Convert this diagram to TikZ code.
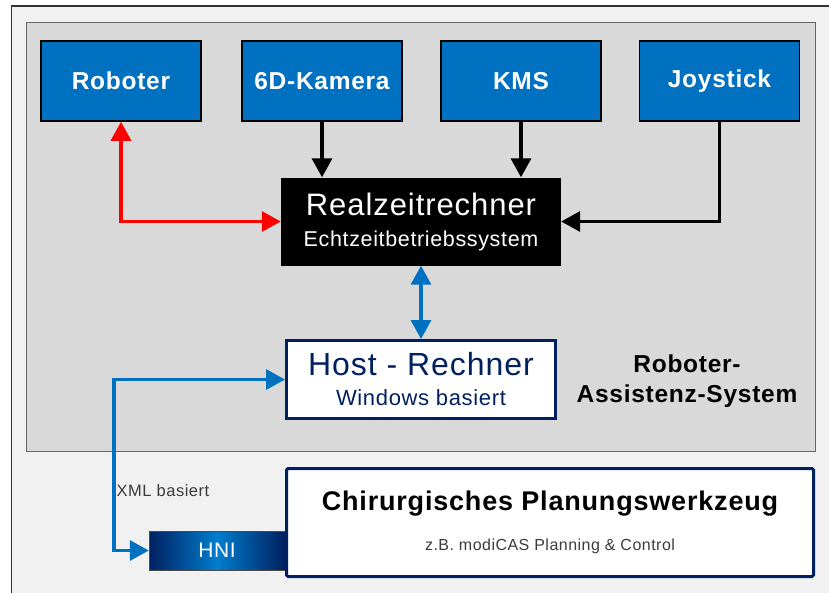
\documentclass[tikz,border=0pt]{standalone}
\usepackage{fontspec}
\setmainfont[LetterSpace=3]{Liberation Sans}
\usetikzlibrary{arrows.meta, positioning, calc}
\definecolor{figblue}{RGB}{0,112,192}
\definecolor{fignavy}{RGB}{0,32,96}
\definecolor{figred}{RGB}{255,0,0}
\definecolor{figpanel}{RGB}{217,217,217}
\definecolor{figbg}{RGB}{241,241,241}
\definecolor{figtext}{RGB}{60,60,60}
\definecolor{figcyan}{RGB}{0,125,205}
\tikzset{
  dev/.style={draw=black, fill=figblue, line width=1.5pt,
              minimum width=160pt, minimum height=80pt, text=white,
              font=\fontsize{24.5}{29}\selectfont\bfseries},
  pcbox/.style={fill=white, draw=fignavy, line width=3pt, align=center,
                text=fignavy, font=\fontsize{22}{30}\selectfont},
  arr/.style={-{Triangle[length=19pt, width=20pt]}, line width=3.3pt},
  darr/.style={{Triangle[length=19pt, width=20pt]}-{Triangle[length=19pt, width=20pt]},
               line width=3.3pt},
}

\begin{document}
\begin{tikzpicture}[x=1pt, y=-1pt]
  \useasboundingbox (0,0) rectangle (829,592);

  % ─── Background and system panel ──────────────────────────────────
  \fill[white] (0,0) rectangle (829,592);
  \draw[fill=figbg, draw=black!80, line width=1.5pt] (11.5,6) rectangle (845,610);
  \node[draw=black!60, fill=figpanel, line width=1pt,
        minimum width=788.5pt, minimum height=429pt] (ras) at (420.75,236.5) {};
  \node[font=\fontsize{24.5}{29.5}\selectfont\bfseries, align=center]
    (raslabel) at (687,381) {Roboter-\\Assistenz-System};

  % ─── Devices (top row) ─────────────────────────────────────────────
  \node[dev] (robot) at (121,81)   {Roboter};
  \node[dev] (cam)   at (322,81)   {6D-Kamera};
  \node[dev] (kms)   at (521,81)   {KMS};
  \node[dev] (joy)   at (719.5,81) {Joystick};

  % Real-time computer
  \node[fill=black, text=white, minimum width=280pt, minimum height=88pt,
        align=center, font=\fontsize{21.5}{31}\selectfont]
    (rt) at (421,221.5) {{\fontsize{31}{31}\selectfont Realzeitrechner}\\Echtzeitbetriebssystem};

  \draw[darr, figred] (robot.south) |- (rt.west);
  \draw[arr] (cam.south) -- (cam.south |- rt.north);
  \draw[arr] (kms.south) -- (kms.south |- rt.north);
  \draw[arr] (joy.south) |- (rt.east);

  % Host PC
  \node[pcbox, minimum width=269pt, minimum height=78pt]
    (host) at (421,379.5) {{\fontsize{32}{30}\selectfont Host - Rechner}\\Windows basiert};
  \draw[darr, figblue] (rt.south) -- (host.north);

  % ─── Planning tool (bottom) ────────────────────────────────────────
  \node[draw=black!70, left color=fignavy, right color=fignavy, middle color=figcyan,
        minimum width=136pt, minimum height=39pt, text=white,
        font=\fontsize{21}{24}\selectfont] (hni) at (217,550.5) {HNI};
  \node[pcbox, rounded corners=1.5pt, minimum width=527pt, minimum height=108pt,
        text=black, font=\fontsize{16}{40}\selectfont]
    (plan) at (550,522.5)
    {{\fontsize{27}{40}\selectfont\bfseries Chirurgisches Planungswerkzeug}\\
     \textcolor{figtext}{z.B. modiCAS Planning \& Control}};

  \coordinate (xmlbend) at (114,379.5);
  \draw[darr, figblue] (host.west) -- (xmlbend) |- (hni.west);
  \node[anchor=west, inner sep=0pt, text=figtext, font=\fontsize{16.5}{20}\selectfont]
    (xml) at (116.5,490.5) {XML basiert};

\end{tikzpicture}
\end{document}
